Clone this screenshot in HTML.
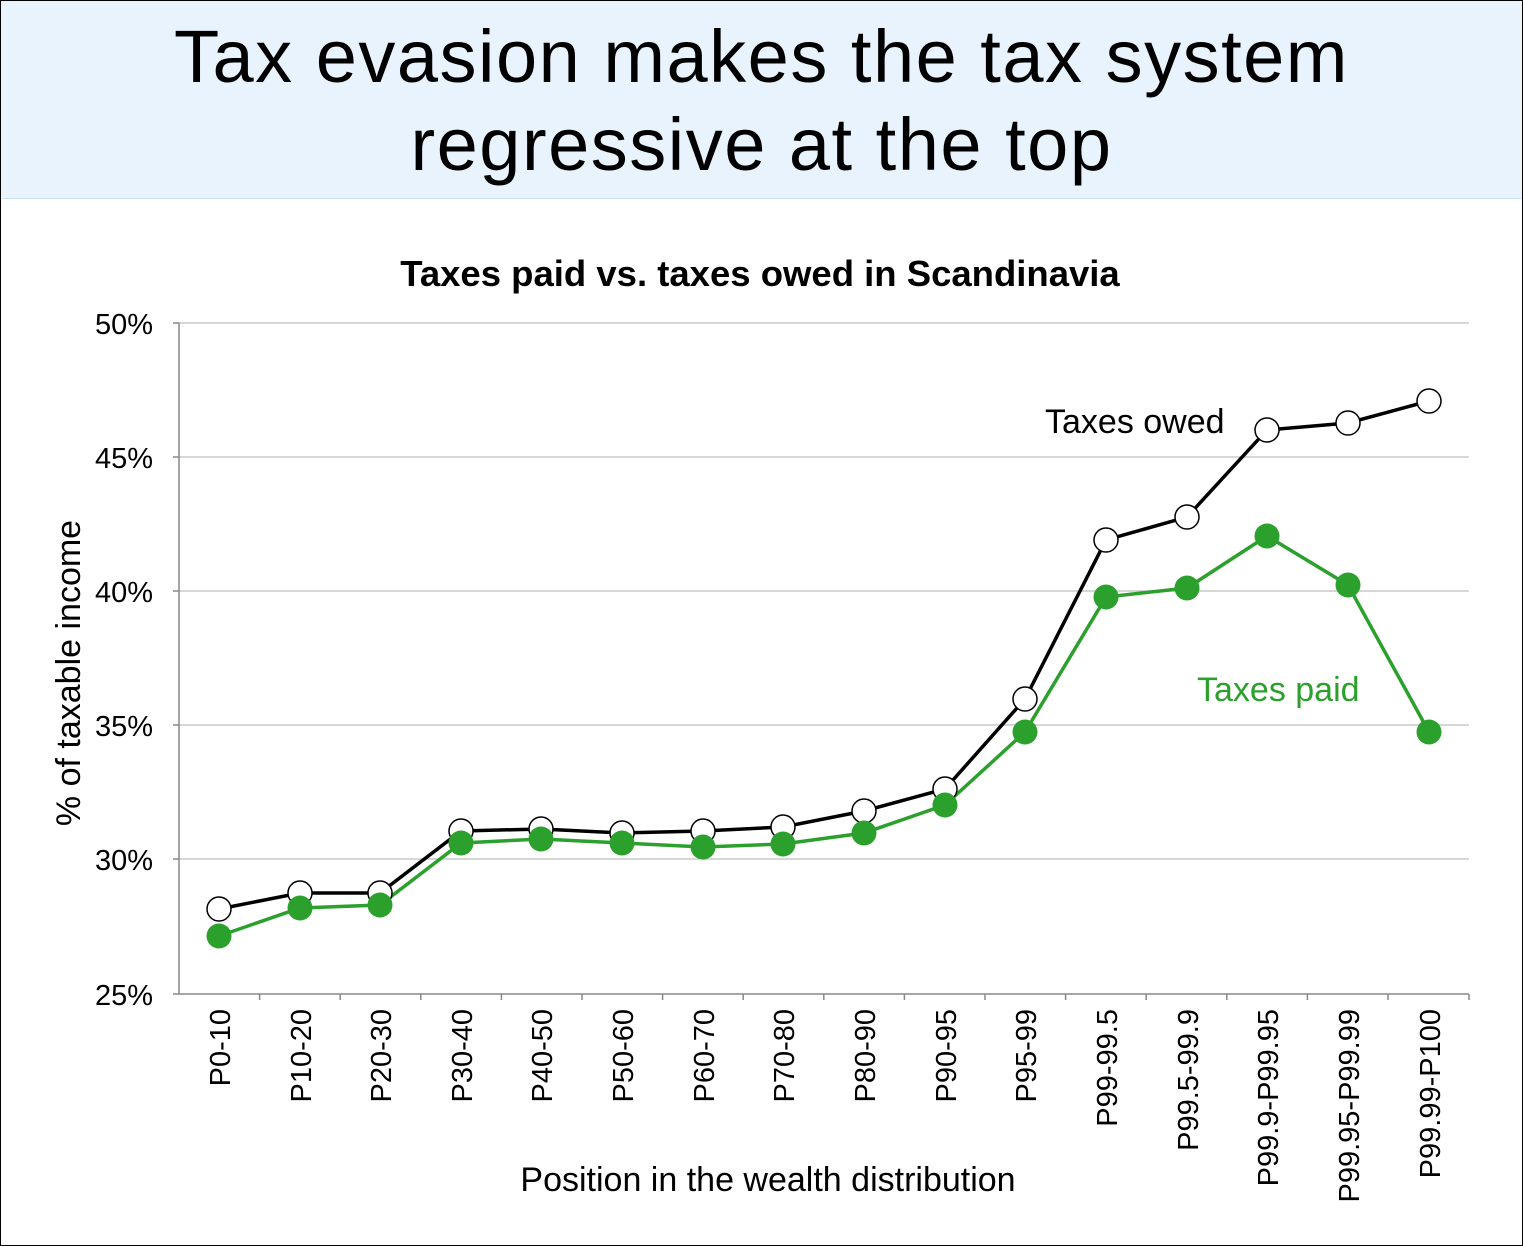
<!DOCTYPE html>
<html><head><meta charset="utf-8"><style>
html,body{margin:0;padding:0;background:#fff}
.wrap{position:relative;width:1521px;height:1244px;border:1px solid #000;overflow:hidden}
.hdr{position:absolute;left:0;top:0;width:1521px;height:197px;background:#e8f3fd;border-bottom:1px solid #cfe0f0}
.hdr div{font-family:"Liberation Sans",sans-serif;font-size:74px;text-align:center;line-height:88px;color:#000;padding-top:12px;letter-spacing:1.5px}
</style></head><body><div class="wrap">
<div class="hdr"><div>Tax evasion makes the tax system<br>regressive at the top</div></div>
<svg width="1521" height="1244" style="position:absolute;left:0;top:0" font-family="Liberation Sans, sans-serif">
<text x="759" y="285" text-anchor="middle" font-size="36.5" font-weight="bold">Taxes paid vs. taxes owed in Scandinavia</text>
<g stroke="#c8c8c8" stroke-width="1.5">
<line x1="178" y1="322" x2="1468" y2="322"/><line x1="178" y1="456" x2="1468" y2="456"/>
<line x1="178" y1="590" x2="1468" y2="590"/><line x1="178" y1="724" x2="1468" y2="724"/>
<line x1="178" y1="858" x2="1468" y2="858"/>
</g>
<g stroke="#888" stroke-width="1.5">
<line x1="178" y1="322" x2="178" y2="993"/><line x1="178" y1="993" x2="1468" y2="993"/>
<line x1="172" y1="322" x2="178" y2="322"/><line x1="172" y1="456" x2="178" y2="456"/><line x1="172" y1="590" x2="178" y2="590"/><line x1="172" y1="724" x2="178" y2="724"/><line x1="172" y1="858" x2="178" y2="858"/><line x1="172" y1="993" x2="178" y2="993"/>
<line x1="258.6" y1="993" x2="258.6" y2="999"/><line x1="339.2" y1="993" x2="339.2" y2="999"/><line x1="419.8" y1="993" x2="419.8" y2="999"/><line x1="500.4" y1="993" x2="500.4" y2="999"/><line x1="581" y1="993" x2="581" y2="999"/><line x1="661.6" y1="993" x2="661.6" y2="999"/><line x1="742.2" y1="993" x2="742.2" y2="999"/><line x1="822.8" y1="993" x2="822.8" y2="999"/><line x1="903.4" y1="993" x2="903.4" y2="999"/><line x1="984" y1="993" x2="984" y2="999"/><line x1="1064.6" y1="993" x2="1064.6" y2="999"/><line x1="1145.2" y1="993" x2="1145.2" y2="999"/><line x1="1225.8" y1="993" x2="1225.8" y2="999"/><line x1="1306.4" y1="993" x2="1306.4" y2="999"/><line x1="1387" y1="993" x2="1387" y2="999"/><line x1="1468" y1="993" x2="1468" y2="999"/>
</g>
<g font-size="29" text-anchor="end">
<text x="152" y="333">50%</text><text x="152" y="467">45%</text><text x="152" y="601">40%</text><text x="152" y="735">35%</text><text x="152" y="869">30%</text><text x="152" y="1004">25%</text>
</g>
<text transform="translate(79,672) rotate(-90)" text-anchor="middle" font-size="34">% of taxable income</text>
<text x="767" y="1190" text-anchor="middle" font-size="34">Position in the wealth distribution</text>
<g font-size="29" text-anchor="end">
<text transform="translate(229,1008) rotate(-90)">P0-10</text>
<text transform="translate(310,1008) rotate(-90)">P10-20</text>
<text transform="translate(390,1008) rotate(-90)">P20-30</text>
<text transform="translate(471,1008) rotate(-90)">P30-40</text>
<text transform="translate(551,1008) rotate(-90)">P40-50</text>
<text transform="translate(632,1008) rotate(-90)">P50-60</text>
<text transform="translate(713,1008) rotate(-90)">P60-70</text>
<text transform="translate(793,1008) rotate(-90)">P70-80</text>
<text transform="translate(874,1008) rotate(-90)">P80-90</text>
<text transform="translate(955,1008) rotate(-90)">P90-95</text>
<text transform="translate(1035,1008) rotate(-90)">P95-99</text>
<text transform="translate(1116,1008) rotate(-90)">P99-99.5</text>
<text transform="translate(1197,1008) rotate(-90)">P99.5-99.9</text>
<text transform="translate(1277,1008) rotate(-90)">P99.9-P99.95</text>
<text transform="translate(1358,1008) rotate(-90)">P99.95-P99.99</text>
<text transform="translate(1439,1008) rotate(-90)">P99.99-P100</text>
</g>
<polyline fill="none" stroke="#000" stroke-width="3.5" points="218,908 299,892 379,892 460,830 540,828 621,832 702,830 782,826 863,810 944,788 1024,698 1105,539 1186,516 1266,429 1347,422 1428,400"/>
<polyline fill="none" stroke="#2ca02c" stroke-width="3.5" points="218,935 299,907 379,904 460,842 540,838 621,842 702,846 782,843 863,832 944,804 1024,731 1105,596 1186,587 1266,535 1347,584 1428,731"/>
<g fill="#fff" stroke="#000" stroke-width="1.5">
<circle cx="218" cy="908" r="12"/><circle cx="299" cy="892" r="12"/><circle cx="379" cy="892" r="12"/><circle cx="460" cy="830" r="12"/><circle cx="540" cy="828" r="12"/><circle cx="621" cy="832" r="12"/><circle cx="702" cy="830" r="12"/><circle cx="782" cy="826" r="12"/><circle cx="863" cy="810" r="12"/><circle cx="944" cy="788" r="12"/><circle cx="1024" cy="698" r="12"/><circle cx="1105" cy="539" r="12"/><circle cx="1186" cy="516" r="12"/><circle cx="1266" cy="429" r="12"/><circle cx="1347" cy="422" r="12"/><circle cx="1428" cy="400" r="12"/>
</g>
<g fill="#2ca02c">
<circle cx="218" cy="935" r="12.5"/><circle cx="299" cy="907" r="12.5"/><circle cx="379" cy="904" r="12.5"/><circle cx="460" cy="842" r="12.5"/><circle cx="540" cy="838" r="12.5"/><circle cx="621" cy="842" r="12.5"/><circle cx="702" cy="846" r="12.5"/><circle cx="782" cy="843" r="12.5"/><circle cx="863" cy="832" r="12.5"/><circle cx="944" cy="804" r="12.5"/><circle cx="1024" cy="731" r="12.5"/><circle cx="1105" cy="596" r="12.5"/><circle cx="1186" cy="587" r="12.5"/><circle cx="1266" cy="535" r="12.5"/><circle cx="1347" cy="584" r="12.5"/><circle cx="1428" cy="731" r="12.5"/>
</g>
<text x="1044" y="432" font-size="34">Taxes owed</text>
<text x="1196" y="700" font-size="34" fill="#2ca02c">Taxes paid</text>
</svg>
</div></body></html>
